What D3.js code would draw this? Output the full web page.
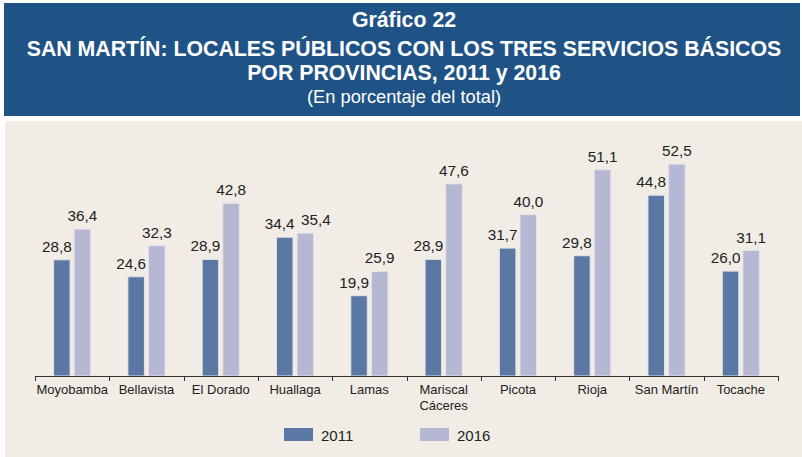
<!DOCTYPE html>
<html>
<head>
<meta charset="utf-8">
<script src="https://cdnjs.cloudflare.com/ajax/libs/d3/7.8.5/d3.min.js"></script>
<style>
    body { margin: 0; background: #ffffff; }
    svg { display: block; }
</style>
</head>
<body>
<div id="chart"></div>
<script>
// data
var provincias = ["Moyobamba", "Bellavista", "El Dorado", "Huallaga", "Lamas",
                  "Mariscal Cáceres", "Picota", "Rioja", "San Martín", "Tocache"];
var series = ["2011", "2016"];
var valores2011 = [28.8, 24.6, 28.9, 34.4, 19.9, 28.9, 31.7, 29.8, 44.8, 26.0];
var valores2016 = [36.4, 32.3, 42.8, 35.4, 25.9, 47.6, 40.0, 51.1, 52.5, 31.1];
var titulos = ["Gráfico 22",
               "SAN MARTÍN: LOCALES PÚBLICOS CON LOS TRES SERVICIOS BÁSICOS",
               "POR PROVINCIAS, 2011 y 2016"];
var subtitulo = "(En porcentaje del total)";

var colors = {"2011": "#5b77a4", "2016": "#b6b7d2"};

var width = 802,
    height = 457;

var svg = d3.select("#chart").append("svg")
    .attr("width", width)
    .attr("height", height)
    .style("font-family", "'Liberation Sans', Arial, sans-serif");

// header band
svg.append("rect")
    .attr("x", 4)
    .attr("y", 3)
    .attr("width", width - 6)
    .attr("height", 113)
    .attr("fill", "#1f5386");

var titleY = [27, 56, 80];
titulos.forEach((t, i) => {
    svg.append("text")
        .attr("x", 404)
        .attr("y", titleY[i])
        .attr("text-anchor", "middle")
        .attr("font-size", "21.3px")
        .attr("font-weight", "bold")
        .attr("fill", "white")
        .text(t);
});

svg.append("text")
    .attr("x", 404)
    .attr("y", 103)
    .attr("text-anchor", "middle")
    .attr("font-size", "18.3px")
    .attr("fill", "white")
    .text(subtitulo);

// beige panel
svg.append("rect")
    .attr("x", 5)
    .attr("y", 121)
    .attr("width", width - 5)
    .attr("height", height - 121)
    .attr("fill", "#f1ede6");

var table = provincias.map((p, i) => ({provincia: p, "2011": valores2011[i], "2016": valores2016[i]}));

var x = d3.scaleBand()
    .domain(provincias)
    .range([35, 778])
    .padding(0);

var x1 = d3.scaleBand()
    .domain(series)
    .range([0, x.bandwidth()])
    .paddingInner(0.2)
    .paddingOuter(0.9);

var y = d3.scaleLinear()
    .domain([0, 57])
    .range([376, 146]);

// bar groups
var group = svg.selectAll(".grupo")
    .data(table)
    .enter()
    .append("g")
    .attr("class", "grupo")
    .attr("transform", d => "translate(" + x(d.provincia) + ",0)");

group.selectAll("rect")
    .data(d => series.map(s => ({serie: s, value: d[s]})))
    .enter()
    .append("rect")
    .attr("x", d => x1(d.serie))
    .attr("y", d => y(d.value))
    .attr("width", x1.bandwidth())
    .attr("height", d => y(0) - y(d.value))
    .attr("fill", d => colors[d.serie])
    .attr("stroke", "#e4e2e8")
    .attr("stroke-width", 1);

// value labels (2011 nudged left like the original)
var fmt = v => d3.format(".1f")(v).replace(".", ",");

group.each(function(d) {
    var g = d3.select(this);
    var lab1 = g.append("text")
        .attr("x", x1("2011") + x1.bandwidth() / 2 - 5)
        .attr("y", y(d["2011"]) - 8)
        .attr("text-anchor", "middle")
        .attr("font-size", "15.3px")
        .attr("fill", "#222")
        .text(fmt(d["2011"]));
    var lab2 = g.append("text")
        .attr("x", x1("2016") + x1.bandwidth() / 2)
        .attr("y", y(d["2016"]) - 8)
        .attr("text-anchor", "middle")
        .attr("font-size", "15.3px")
        .attr("fill", "#222")
        .text(fmt(d["2016"]));

    // push the 2016 label right when the two labels sit at the same height
    if (Math.abs(y(d["2011"]) - y(d["2016"])) < 16) {
        var b1 = lab1.node().getBBox();
        var b2 = lab2.node().getBBox();
        var overlap = b1.x + b1.width + 6 - b2.x;
        if (overlap > 0) lab2.attr("x", +lab2.attr("x") + overlap);
    }
});

// x axis
var xAxis = svg.append("g")
    .attr("transform", "translate(0," + y(0) + ")")
    .call(d3.axisBottom(x).tickSize(0).tickFormat(""));

xAxis.select(".domain")
    .attr("stroke", "#333")
    .attr("d", "M35,0.5H778");

// tick marks on band boundaries
xAxis.selectAll(".borde")
    .data(provincias.concat([null]))
    .enter()
    .append("line")
    .attr("x1", (d, i) => Math.round(x.range()[0] + i * x.step()) + 0.5)
    .attr("x2", (d, i) => Math.round(x.range()[0] + i * x.step()) + 0.5)
    .attr("y1", 0)
    .attr("y2", 5)
    .attr("stroke", "#333");

// category labels, wrap "Mariscal Cáceres"
svg.selectAll(".cat")
    .data(provincias)
    .enter()
    .append("text")
    .attr("class", "cat")
    .attr("x", d => x(d) + x.bandwidth() / 2)
    .attr("y", 394)
    .attr("text-anchor", "middle")
    .attr("font-size", "13px")
    .attr("fill", "#222")
    .each(function(d) {
        var lines = d === "Mariscal Cáceres" ? ["Mariscal", "Cáceres"] : [d];
        var el = d3.select(this);
        lines.forEach((l, i) => {
            el.append("tspan")
                .attr("x", x(d) + x.bandwidth() / 2)
                .attr("dy", i === 0 ? 0 : 16)
                .text(l);
        });
    });

// legend
var legendX = [284, 420];
series.forEach((s, i) => {
    svg.append("rect")
        .attr("x", legendX[i])
        .attr("y", 428)
        .attr("width", 29)
        .attr("height", 13)
        .attr("fill", colors[s]);
    svg.append("text")
        .attr("x", legendX[i] + 37)
        .attr("y", 441)
        .attr("font-size", "15px")
        .attr("fill", "#222")
        .text(s);
});
</script>
</body>
</html>
